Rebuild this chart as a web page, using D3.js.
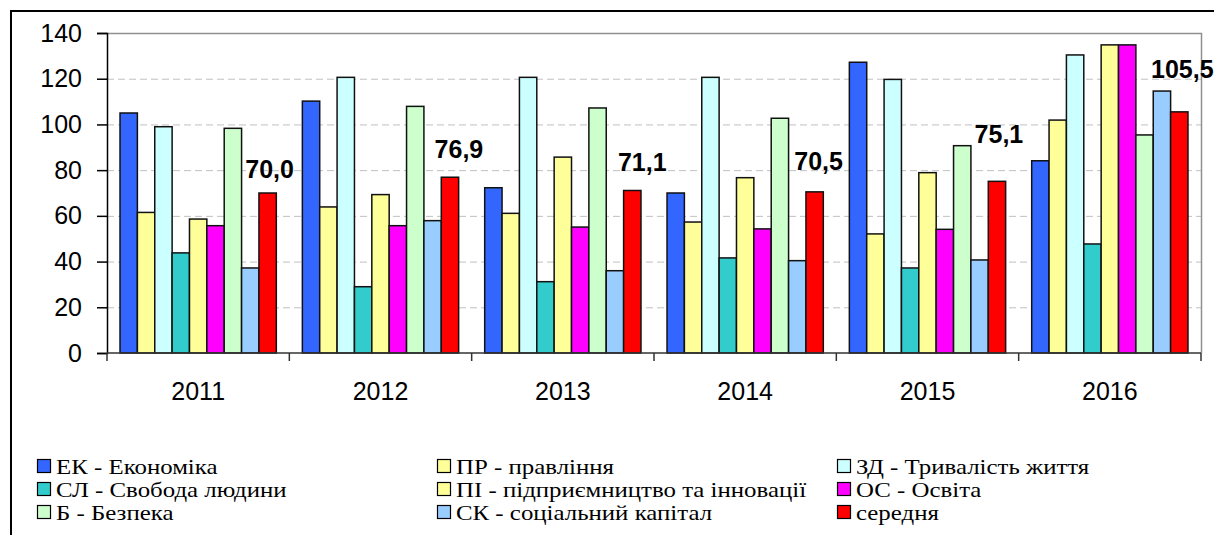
<!DOCTYPE html>
<html><head><meta charset="utf-8">
<script src="https://cdn.jsdelivr.net/npm/d3@7"></script>
<style>html,body{margin:0;padding:0;background:#fff;overflow:hidden}
</style>
</head><body>
<svg id="c" width="1214" height="535"></svg>
<script>
const years = ["2011","2012","2013","2014","2015","2016"];
const seriesNames = ["ЕК - Економіка","ПР - правління","ЗД - Тривалість життя","СЛ - Свобода людини","ПІ - підприємництво та інновації","ОС - Освіта","Б - Безпека","СК - соціальний капітал","середня"];
const EK = [105, 110.2, 72.3, 70.0, 127.2, 84.1];
const PR = [61.5, 63.9, 61.1, 57.3, 52.1, 101.9];
const ZD = [99.0, 120.6, 120.6, 120.6, 119.7, 130.4];
const SL = [43.8, 29.0, 31.2, 41.6, 37.2, 47.7];
const PI = [58.6, 69.3, 85.7, 76.7, 78.9, 134.8];
const OS = [55.7, 55.7, 55.1, 54.3, 54.1, 134.8];
const B  = [98.3, 107.9, 107.2, 102.7, 90.7, 95.4];
const SK = [37.2, 57.9, 36.0, 40.4, 40.7, 114.6];
const avg = [70.0, 76.9, 71.1, 70.5, 75.1, 105.5];
const avgLabels = ["70,0","76,9","71,1","70,5","75,1","105,5"];
const yTicks = [0,20,40,60,80,100,120,140];

const colors = ["#3366FF","#FFFF99","#CCFFFF","#33CCCC","#FFFF99","#FF00FF","#CCFFCC","#99CCFF","#FF0000"];
const seriesVals = [EK,PR,ZD,SL,PI,OS,B,SK,avg];
const labelDx = [2,9,10,4,2,3];
const labelDy = [-15,-19,-19,-22,-38,-34];

const SANS = "'Liberation Sans', Arial, sans-serif";
const SERIF = "'Liberation Serif', 'Times New Roman', 'DejaVu Serif', serif";

const svg = d3.select("#c");
const L=107, R=1201, T=33, Bt=353;

svg.append("rect").attr("x",11).attr("y",11).attr("width",1300).attr("height",1000)
  .attr("fill","none").attr("stroke","#000").attr("stroke-width",2);

const x0 = d3.scaleBand().domain(years).range([L,R]).padding(0);
const bw = x0.bandwidth();
const gap = bw*1.5/(seriesNames.length+1.5);
const x1 = d3.scaleBand().domain(d3.range(seriesNames.length)).range([gap/2, bw-gap/2]).padding(0);
const y = d3.scaleLinear().domain([0,140]).range([Bt,T]);

svg.append("g").selectAll("line").data(yTicks.filter(t=>t>0&&t<140)).join("line")
  .attr("x1",L).attr("x2",R).attr("y1",d=>y(d)+0.5).attr("y2",d=>y(d)+0.5)
  .attr("stroke","#c0c0c0").attr("stroke-width",1).attr("stroke-dasharray","7,4");
svg.append("path").attr("d",`M${L},${T+0.5}H${R+0.5}V${Bt}`).attr("fill","none").attr("stroke","#909090").attr("stroke-width",1.5);

const g = svg.append("g");
years.forEach((yr,i)=>{
  seriesVals.forEach((arr,s)=>{
    g.append("rect")
      .attr("x",x0(yr)+x1(s)).attr("width",x1.bandwidth())
      .attr("y",y(arr[i])).attr("height",y(0)-y(arr[i]))
      .attr("fill",colors[s]).attr("stroke","#111").attr("stroke-width",1.5);
  });
});

const ya = svg.append("g").attr("transform",`translate(${L},0)`)
  .call(d3.axisLeft(y).tickValues(yTicks).tickSize(10).tickPadding(15));
ya.attr("font-family",SANS).attr("font-size",25);
ya.select(".domain").attr("stroke","#000").attr("stroke-width",1.5);
ya.selectAll(".tick line").attr("stroke","#000").attr("stroke-width",1.5);
ya.selectAll("text").attr("fill","#000");

const xa = svg.append("g").attr("transform",`translate(0,${Bt})`);
xa.append("line").attr("x1",L).attr("x2",R).attr("stroke","#333").attr("stroke-width",1.5);
xa.selectAll("line.tk").data(years.map(d=>x0(d)).concat([R])).join("line").attr("class","tk")
  .attr("x1",d=>d).attr("x2",d=>d).attr("y1",0).attr("y2",8).attr("stroke","#333").attr("stroke-width",1.5);
xa.selectAll("text").data(years).join("text")
  .attr("x",d=>x0(d)+bw/2).attr("y",47).attr("text-anchor","middle")
  .attr("font-family",SANS).attr("font-size",25).text(d=>d);

svg.append("g").selectAll("text").data(years).join("text")
  .attr("x",(d,i)=>x0(d)+x1(8)+x1.bandwidth()/2+labelDx[i])
  .attr("y",(d,i)=>y(avg[i])+labelDy[i])
  .attr("text-anchor","middle").attr("font-family",SANS)
  .attr("font-weight","bold").attr("font-size",25).text((d,i)=>avgLabels[i]);

const legX = [37,437,837], legY=[466,489,512];
const lg = svg.append("g");
seriesNames.forEach((n,k)=>{
  const c=k%3, r=Math.floor(k/3);
  lg.append("rect").attr("x",legX[c]+0.5).attr("y",legY[r]-6.5).attr("width",13).attr("height",13)
    .attr("fill",colors[k]).attr("stroke","#000").attr("stroke-width",1.2);
  lg.append("text").attr("transform",`translate(${legX[c]+19},${legY[r]}) scale(1.13,1)`)
    .attr("dy","0.36em")
    .attr("font-family",SERIF).attr("font-size",22).text(n);
});
</script>
</body></html>
